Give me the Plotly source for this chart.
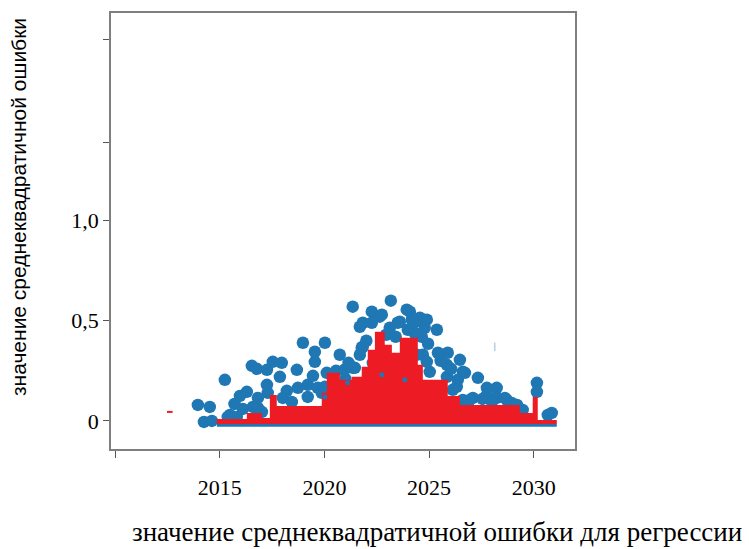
import plotly.graph_objects as go

# Scatter of individual error values (year, value)
pts_year = [2013.95, 2014.52, 2014.24, 2014.62, 2015.24, 2015.48, 2015.81, 2015.96, 2016.29,
            2016.53, 2016.77, 2017.25, 2017.53, 2017.96, 2017.87, 2018.68, 2018.97, 2020.02,
            2019.54, 2019.54, 2020.73, 2017.25, 2017.29, 2016.82, 2016.58, 2016.82, 2017.01,
            2018.01, 2018.44, 2018.73, 2019.20, 2019.20, 2019.68, 2020.11, 2019.87, 2015.38,
            2021.35, 2023.17, 2022.26, 2022.64, 2021.83, 2022.26, 2023.60, 2024.08, 2024.17,
            2024.56, 2024.89, 2024.79, 2025.37, 2023.98, 2023.12, 2021.78, 2021.45, 2022.31,
            2024.70, 2025.42, 2025.89, 2026.47, 2025.85, 2026.61, 2025.85, 2026.37, 2027.33,
            2027.76, 2028.23, 2027.09, 2028.23, 2028.62, 2030.15, 2030.15, 2030.86, 2025.03,
            2025.27, 2026.13, 2026.61, 2020.40, 2026.71, 2026.32, 2027.76, 2028.71, 2026.94,
            2029.47, 2030.67, 2022.74, 2021.69, 2023.93, 2023.50, 2024.32, 2024.65, 2024.17,
            2021.83, 2021.69, 2021.35, 2022.41, 2022.79, 2023.36, 2023.74, 2024.41, 2024.89,
            2023.12, 2020.02, 2020.55, 2020.95, 2021.15, 2022.00, 2024.95, 2025.55, 2026.05,
            2027.55, 2028.00, 2028.95, 2029.20, 2019.45, 2018.20, 2016.10, 2015.70, 2022.95,
            2023.40, 2024.30, 2021.00]
pts_value = [0.080, 0.070, -0.005, 0.000, 0.205, 0.030, 0.020, 0.125, 0.145,
             0.275, 0.260, 0.255, 0.295, 0.290, 0.220, 0.255, 0.390, 0.390,
             0.345, 0.295, 0.330, 0.180, 0.140, 0.115, 0.070, 0.065, 0.045,
             0.115, 0.095, 0.165, 0.180, 0.120, 0.165, 0.240, 0.140, 0.020,
             0.570, 0.600, 0.545, 0.520, 0.490, 0.490, 0.495, 0.545, 0.505,
             0.515, 0.505, 0.465, 0.455, 0.455, 0.465, 0.365, 0.265, 0.290,
             0.330, 0.340, 0.340, 0.305, 0.280, 0.245, 0.220, 0.205, 0.215,
             0.165, 0.165, 0.115, 0.115, 0.115, 0.190, 0.145, 0.040, 0.245,
             0.155, 0.155, 0.105, 0.215, 0.240, 0.170, 0.130, 0.105, 0.105,
             0.055, 0.030, 0.530, 0.470, 0.555, 0.490, 0.495, 0.420, 0.455,
             0.370, 0.330, 0.265, 0.255, 0.315, 0.295, 0.295, 0.330, 0.295,
             0.265, 0.170, 0.250, 0.255, 0.290, 0.400, 0.385, 0.300, 0.260,
             0.110, 0.095, 0.090, 0.080, 0.225, 0.150, 0.060, 0.085, 0.430,
             0.420, 0.440, 0.210]

# Points that sit over the filled profile
top_year = [2020.02, 2020.02, 2022.74, 2023.84, 2021.10]
top_value = [0.170, 0.120, 0.230, 0.205, 0.190]

# Stepped profile of the regression error (bin edges in years and step heights)
step_edges = [2014.86, 2016.29, 2017.01, 2017.39, 2017.72, 2019.87, 2020.11, 2020.73,
              2021.31, 2021.78, 2022.07, 2022.41, 2022.88, 2023.22, 2023.60, 2024.46,
              2024.70, 2025.89, 2026.47, 2029.33, 2029.95, 2030.19, 2031.10]
step_heights = [0.010, 0.040, 0.015, 0.130, 0.075, 0.140, 0.240, 0.205,
                0.220, 0.270, 0.355, 0.445, 0.380, 0.340, 0.415, 0.280,
                0.205, 0.125, 0.080, 0.040, 0.120, 0.005]
step_base = -0.015

x_ticks = [2010, 2015, 2020, 2025, 2030]
x_labels = ["", "2015", "2020", "2025", "2030"]
y_ticks = [0, 0.5, 1.0, 1.39, 1.905]
y_labels = ["0", "0,5", "1,0", "", ""]

BLUE = "#1f77b4"
RED = "#ed1c24"
SERIF = "Liberation Serif"

fig = go.Figure()

# baseline strip under the profile
fig.add_trace(go.Scatter(
    x=[step_edges[0], step_edges[-1]], y=[-0.022, -0.022], mode="lines",
    line=dict(color=BLUE, width=3), hoverinfo="skip", showlegend=False))

fig.add_trace(go.Scatter(
    x=pts_year, y=pts_value, mode="markers",
    marker=dict(color=BLUE, size=12.5, line=dict(width=0)),
    showlegend=False))

# closed step polygon built from edges and heights
poly_x = [step_edges[0]] + step_edges
poly_y = [step_base] + step_heights + [step_base]
fig.add_trace(go.Scatter(
    x=poly_x, y=poly_y, mode="lines", line_shape="hv",
    line=dict(color=RED, width=0), fill="toself", fillcolor=RED,
    hoverinfo="skip", showlegend=False))

fig.add_trace(go.Scatter(
    x=top_year, y=top_value, mode="markers",
    marker=dict(color=BLUE, size=5, line=dict(width=0)),
    showlegend=False))

# small stray marks
fig.add_trace(go.Scatter(
    x=[2012.61], y=[0.045], mode="markers",
    marker=dict(symbol="line-ew", size=4, line=dict(color=RED, width=2)),
    showlegend=False))
fig.add_trace(go.Scatter(
    x=[2028.14], y=[0.37], mode="markers",
    marker=dict(symbol="line-ns", size=6, line=dict(color="#8fb8da", width=1)),
    showlegend=False))

fig.update_layout(
    width=749, height=549,
    margin=dict(l=111, r=174, t=13, b=100),
    paper_bgcolor="white", plot_bgcolor="white",
    font=dict(family=SERIF, color="black"),
    showlegend=False,
    xaxis=dict(
        range=[2009.8, 2031.97], tickmode="array", tickvals=x_ticks, ticktext=x_labels,
        ticks="outside", ticklen=7, tickcolor="#555", tickwidth=1,
        showline=True, linecolor="#7f7f7f", linewidth=1.5, mirror=True,
        showgrid=False, zeroline=False,
        tickfont=dict(family=SERIF, size=22, color="black"),
        ticklabelstandoff=11,
    ),
    yaxis=dict(
        range=[-0.14, 2.035], tickmode="array", tickvals=y_ticks, ticktext=y_labels,
        ticks="outside", ticklen=6, tickcolor="#555", tickwidth=1,
        showline=True, linecolor="#7f7f7f", linewidth=1.5, mirror=True,
        showgrid=False, zeroline=False,
        tickfont=dict(family=SERIF, size=22, color="black"),
    ),
    annotations=[
        dict(text="значение среднеквадратичной ошибки для регрессии",
             xref="paper", yref="paper", x=0.7026, y=-0.19,
             xanchor="center", yanchor="middle", showarrow=False,
             font=dict(family=SERIF, size=27, color="black")),
        dict(text="значение среднеквадратичной ошибки",
             xref="paper", yref="paper", x=-0.2004, y=0.555, textangle=-90,
             xanchor="center", yanchor="middle", showarrow=False,
             font=dict(family="Liberation Sans", size=21, color="black")),
    ],
)

fig.write_html("out.html")
